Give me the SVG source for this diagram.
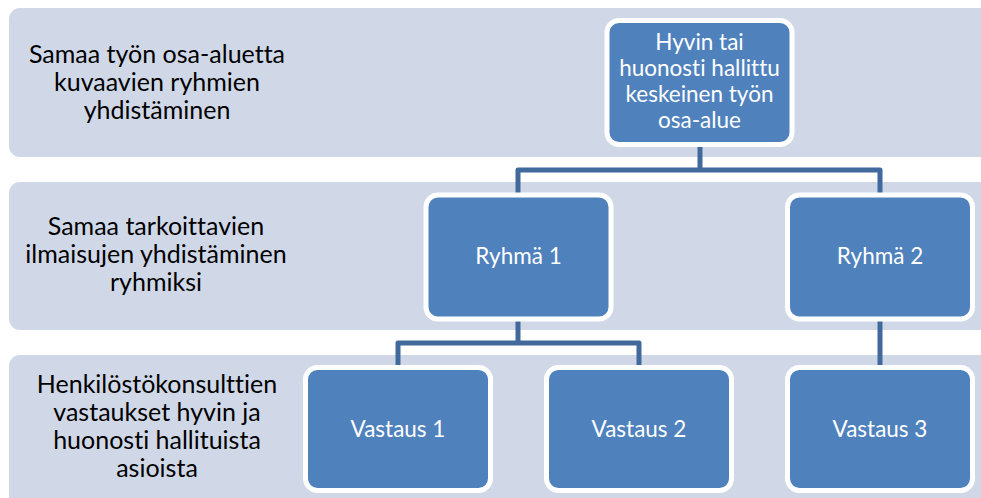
<svg xmlns="http://www.w3.org/2000/svg" width="981" height="498" viewBox="0 0 981 498">
  <style>
    text { font-variant-ligatures: none; }
    .band { fill: #d0d8e8; }
    .node rect { fill: #4f81bd; stroke: #ffffff; stroke-width: 5; }
    .node text { fill: #ffffff; font-family: Lato, "Liberation Sans", sans-serif; font-size: 22.5px; text-anchor: middle; }
    .label { fill: #000000; font-family: Lato, "Liberation Sans", sans-serif; font-size: 25px; text-anchor: middle; }
    .conn { fill: none; stroke: #41699b; stroke-width: 5; stroke-linejoin: round; }
  </style>
  <rect width="981" height="498" fill="#ffffff"/>

  <!-- level bands -->
  <g id="bands">
    <rect class="band" x="9" y="8" width="990" height="149" rx="11"/>
    <rect class="band" x="9" y="182" width="990" height="148" rx="11"/>
    <rect class="band" x="9" y="355" width="990" height="155" rx="11"/>
  </g>

  <!-- level labels -->
  <g id="labels">
    <text class="label"><tspan x="157" y="63">Samaa työn osa-aluetta</tspan><tspan x="157" y="91">kuvaavien ryhmien</tspan><tspan x="157" y="119">yhdistäminen</tspan></text>
    <text class="label"><tspan x="156" y="235">Samaa tarkoittavien</tspan><tspan x="156" y="263">ilmaisujen yhdistäminen</tspan><tspan x="156" y="291">ryhmiksi</tspan></text>
    <text class="label"><tspan x="157" y="393">Henkilöstökonsulttien</tspan><tspan x="157" y="421">vastaukset hyvin ja</tspan><tspan x="157" y="449">huonosti hallituista</tspan><tspan x="157" y="477">asioista</tspan></text>
  </g>

  <!-- connectors -->
  <g id="connectors">
    <path class="conn" d="M700,145 V170 H518 V195 M700,170 H880 V195"/>
    <path class="conn" d="M518,319 V343 H398 V367 M518,343 H639 V367"/>
    <path class="conn" d="M880,319 V367"/>
  </g>

  <g id="node-top" class="node">
    <rect x="607" y="20.5" width="185" height="124" rx="12"/>
    <text><tspan x="699.5" y="50">Hyvin tai</tspan><tspan x="699.5" y="76">huonosti hallittu</tspan><tspan x="699.5" y="102">keskeinen työn</tspan><tspan x="699.5" y="128">osa-alue</tspan></text>
  </g>
  <g id="node-ryhma1" class="node">
    <rect x="426" y="195" width="185" height="124" rx="12"/>
    <text x="518.5" y="264">Ryhmä 1</text>
  </g>
  <g id="node-ryhma2" class="node">
    <rect x="787.5" y="195" width="185" height="124" rx="12"/>
    <text x="880" y="264">Ryhmä 2</text>
  </g>
  <g id="node-vastaus1" class="node">
    <rect x="305.5" y="367.5" width="185" height="123" rx="12"/>
    <text x="398" y="437">Vastaus 1</text>
  </g>
  <g id="node-vastaus2" class="node">
    <rect x="546.5" y="367.5" width="185" height="123" rx="12"/>
    <text x="639" y="437">Vastaus 2</text>
  </g>
  <g id="node-vastaus3" class="node">
    <rect x="787.5" y="367.5" width="185" height="123" rx="12"/>
    <text x="880" y="437">Vastaus 3</text>
  </g>
</svg>
